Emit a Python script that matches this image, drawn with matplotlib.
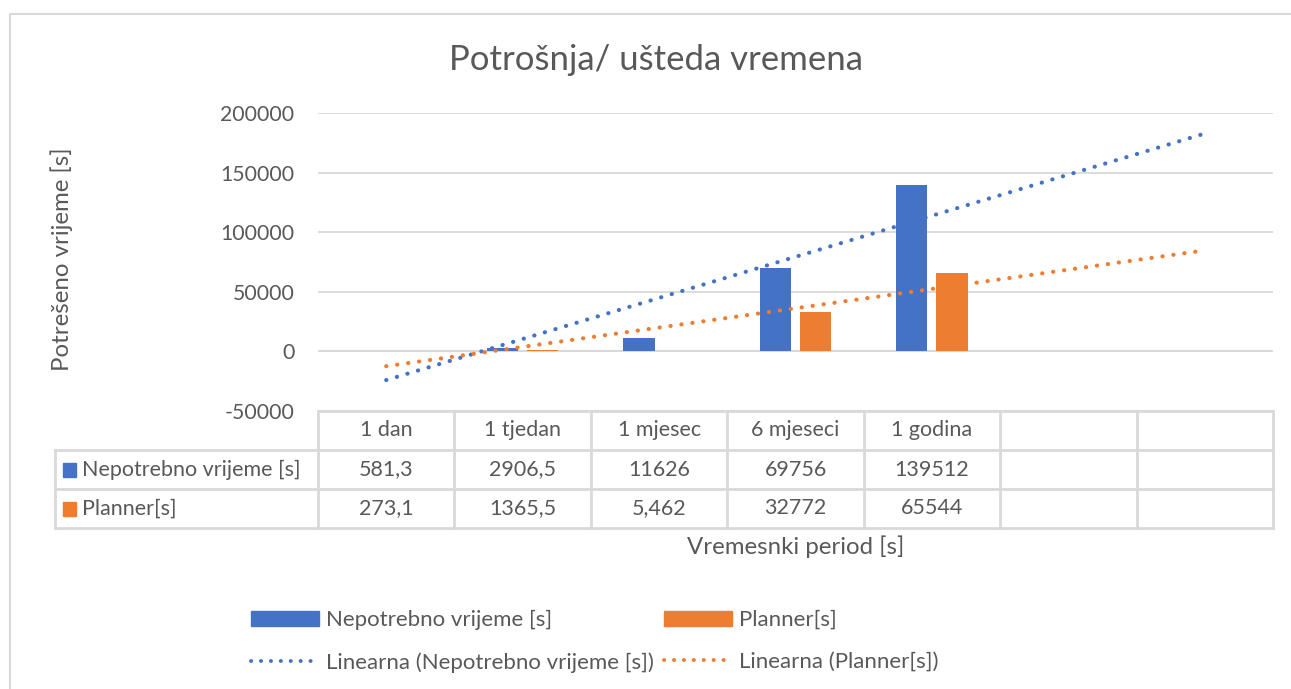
import numpy as np
import matplotlib
matplotlib.use("Agg")
import matplotlib.pyplot as plt
from matplotlib.lines import Line2D
from matplotlib.patches import Patch, Rectangle

plt.rcParams["font.family"] = ["Lato", "DejaVu Sans"]

# podaci
kategorije = ["1 dan", "1 tjedan", "1 mjesec", "6 mjeseci", "1 godina", "", ""]
nepotrebno = [581.3, 2906.5, 11626, 69756, 139512]
planner = [273.1, 1365.5, 5.462, 32772, 65544]
serije = ["Nepotrebno vrijeme [s]", "Planner[s]"]
boje = ["#4472C4", "#ED7D31"]

SIVA = "#595959"
GRID = "#D9D9D9"
W, H = 1291, 689

fig = plt.figure(figsize=(W / 100, H / 100), dpi=100)
ax = fig.add_axes([318 / W, 1 - 411 / H, (1273 - 318) / W, (411 - 113) / H])

x_bar = np.arange(1, len(nepotrebno) + 1)
sirina = 0.228
pomak = 0.147
ax.bar(x_bar - pomak, nepotrebno, sirina, color=boje[0], zorder=3)
ax.bar(x_bar + pomak, planner, sirina, color=boje[1], zorder=3)

# linearni trend (kao u Excelu, produžen preko svih kategorija)
x_trend = np.arange(1, len(kategorije) + 1)
for vals, c in zip([nepotrebno, planner], boje):
    k, n = np.polyfit(x_bar, vals, 1)
    ax.plot(x_trend, k * x_trend + n, color=c, lw=3.0,
            linestyle=(0, (0.05, 2.6)), dash_capstyle="round", zorder=4)

ax.set_xlim(0.5, len(kategorije) + 0.5)
ax.set_ylim(-50000, 200000)
ax.set_yticks(np.arange(-50000, 200001, 50000))
ax.set_yticklabels([f"{v}" for v in range(-50000, 200001, 50000)])
ax.set_xticks([])
ax.grid(axis="y", color=GRID, lw=1.3, zorder=0)
ax.axhline(0, color=GRID, lw=1.5, zorder=2)
for s in ax.spines.values():
    s.set_visible(False)
ax.tick_params(axis="y", length=0, pad=17, labelsize=15.3, labelcolor=SIVA)

# tablica podataka ispod grafa
red = 39 / 298
lijevo = (55 - 318) / 955
ncol = len(kategorije)
tk = dict(transform=ax.transAxes, color=GRID, lw=2, clip_on=False)
ax.plot([0, 1], [0, 0], **tk)
for i in range(1, 4):
    ax.plot([lijevo, 1], [-i * red, -i * red], **tk)
ax.plot([lijevo, lijevo], [-red, -3 * red], **tk)
for j in range(ncol + 1):
    ax.plot([j / ncol, j / ncol], [0, -3 * red], **tk)

def fmt(v):
    return f"{v:g}".replace(".", ",")

for j, kat in enumerate(kategorije):
    ax.text((j + 0.5) / ncol, -0.5 * red, kat, transform=ax.transAxes,
            ha="center", va="center", fontsize=15.5, color=SIVA)
for r, (vals, c, ime) in enumerate(zip([nepotrebno, planner], boje, serije)):
    y = -(r + 1.5) * red
    for j, v in enumerate(vals):
        ax.text((j + 0.5) / ncol, y, fmt(v), transform=ax.transAxes,
                ha="center", va="center", fontsize=15.5, color=SIVA)
    ax.add_patch(Rectangle((lijevo + 8 / 955, y - 7 / 298), 13 / 955, 14 / 298,
                           transform=ax.transAxes, color=c, clip_on=False))
    ax.text(lijevo + 27 / 955, y, ime, transform=ax.transAxes,
            ha="left", va="center", fontsize=15.5, color=SIVA)

fig.text(796 / W, 1 - 547 / H, "Vremesnki period [s]", ha="center", va="center",
         fontsize=17.3, color=SIVA)
fig.text(62 / W, 1 - 259 / H, "Potrešeno vrijeme [s]", rotation=90, ha="center",
         va="center", fontsize=17.3, color=SIVA)
fig.text(656 / W, 1 - 60 / H, "Potrošnja/ ušteda vremena", ha="center", va="center",
         fontsize=25, color=SIVA)

# okvir
fig.add_artist(Rectangle((10 / W, -0.1), 1.2, 1 - 14 / H + 0.1, transform=fig.transFigure,
                         fill=False, edgecolor=GRID, lw=1.5))

# legenda
fs_leg = 16
px = fs_leg * 100 / 72
handles = [Patch(color=boje[0]), Line2D([], [], color=boje[0], lw=2.8,
                                        linestyle=(0, (0.05, 2.5)), dash_capstyle="round"),
           Patch(color=boje[1]), Line2D([], [], color=boje[1], lw=2.8,
                                        linestyle=(0, (0.05, 2.5)), dash_capstyle="round")]
labels = [serije[0], "Linearna (" + serije[0] + ")", serije[1], "Linearna (" + serije[1] + ")"]
fig.legend(handles, labels, ncol=2, loc="upper left", bbox_to_anchor=(251 / W, 1 - 610 / H),
           frameon=False, fontsize=fs_leg, labelcolor=SIVA, handlelength=68 / px,
           handleheight=14 / px, handletextpad=7 / px, columnspacing=10 / px,
           labelspacing=(44 - px) / px, borderpad=0, borderaxespad=0)

fig.savefig("out.png", dpi=100)
